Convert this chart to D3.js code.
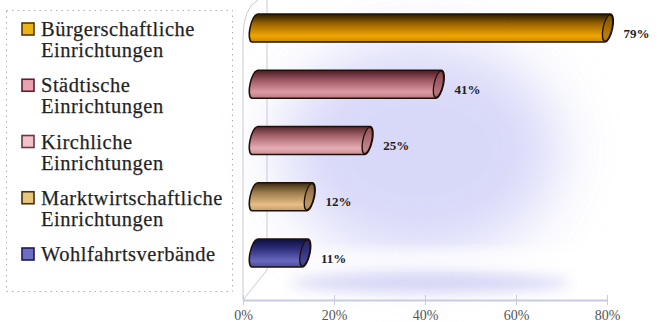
<!DOCTYPE html>
<html><head><meta charset="utf-8">
<script src="https://cdn.jsdelivr.net/npm/d3@7"></script>
<style>
html,body{margin:0;padding:0;background:#fff;}
svg{display:block;}
</style></head>
<body>
<svg id="chart" width="660" height="322"></svg>
<script>
const categories = ["Bürgerschaftliche Einrichtungen","Städtische Einrichtungen","Kirchliche Einrichtungen","Marktwirtschaftliche Einrichtungen","Wohlfahrtsverbände"];
const values = [79, 41, 25, 12, 11];
const tickValues = [0, 20, 40, 60, 80];
const valueLabels = ["79%","41%","25%","12%","11%"];

const SERIF = "Liberation Serif";
const barColors = [
  ["#2a1a00","#9a6400","#f0a600","#c88800"],
  ["#4a1a22","#9c5662","#dc9ca6","#b87882"],
  ["#55262e","#a8666f","#e8aeb6","#c88e96"],
  ["#3a2a12","#9c7c4c","#e6be86","#c49c6a"],
  ["#0e0e3c","#2e2e7c","#6868be","#4c4c9c"]
];
const legendFill = ["#e8b418","#e8a2b0","#f2c2ca","#e6c67a","#6e6ec0"];
const legendStroke = ["#5a3600","#5a2030","#6a3848","#4a3010","#1a1a5a"];

const svg = d3.select("#chart");
const defs = svg.append("defs");

defs.append("filter").attr("id","blur30").attr("x","-50%").attr("y","-50%").attr("width","200%").attr("height","200%")
  .append("feGaussianBlur").attr("stdDeviation",30);
defs.append("filter").attr("id","blur8").attr("x","-50%").attr("y","-50%").attr("width","200%").attr("height","200%")
  .append("feGaussianBlur").attr("stdDeviation",7);

const xAxisScale = d3.scaleLinear().domain([0,80]).range([243,607]);
const xBar = d3.scaleLinear().domain([0,80]).range([261,617]);
const yBar = d3.scalePoint().domain(categories).range([28,253]);

const bg = svg.append("g");
bg.append("ellipse").attr("cx",420).attr("cy",150).attr("rx",140).attr("ry",110)
  .attr("fill","#d2d2f8").attr("opacity",0.85).attr("filter","url(#blur30)");
bg.append("ellipse").attr("cx",430).attr("cy",283).attr("rx",140).attr("ry",9)
  .attr("fill","#cfcff4").attr("opacity",0.9).attr("filter","url(#blur8)");
bg.append("ellipse").attr("cx",470).attr("cy",258).attr("rx",200).attr("ry",7)
  .attr("fill","#ffffff").attr("opacity",0.95).attr("filter","url(#blur8)");

const wallColor = "#c9c9d6";
svg.append("path").attr("d","M243,300 L243,38 Q243,8 258,0").attr("fill","none").attr("stroke",wallColor).attr("stroke-width",1);
svg.append("line").attr("x1",267).attr("y1",0).attr("x2",267).attr("y2",270).attr("stroke",wallColor).attr("stroke-width",1);
svg.append("line").attr("x1",243).attr("y1",300).attr("x2",267).attr("y2",270).attr("stroke",wallColor).attr("stroke-width",1);

const axis = d3.axisBottom(xAxisScale).tickValues(tickValues).tickFormat(d => d + "%").tickSizeInner(-5).tickSizeOuter(0).tickPadding(17);
const ag = svg.append("g").attr("transform","translate(0,300)").call(axis);
ag.attr("font-family",SERIF).attr("font-size",14);
ag.select(".domain").attr("stroke","#c8cce2").attr("stroke-width",2);
ag.selectAll(".tick line").attr("stroke","#c8cce2").attr("y2",5).attr("y1",-5);
ag.selectAll(".tick text").attr("font-family",SERIF).attr("font-size",14).attr("fill","#555").attr("dy",0).attr("y",20);

barColors.forEach((c,i) => {
  const g = defs.append("linearGradient").attr("id","bg"+i).attr("x1",0).attr("y1",0).attr("x2",0).attr("y2",1);
  g.append("stop").attr("offset","0").attr("stop-color",c[0]);
  g.append("stop").attr("offset","0.35").attr("stop-color",c[1]);
  g.append("stop").attr("offset","0.78").attr("stop-color",c[2]);
  g.append("stop").attr("offset","1").attr("stop-color",c[3]);
});

const ry = 14, rx = 5;
const bars = svg.append("g").selectAll("g").data(categories).join("g")
  .attr("transform", d => { const cy = yBar(d); return `translate(0,${cy}) skewX(-11) translate(0,${-cy})`; });
bars.append("path")
  .attr("d", (d,i) => {
    const cy = yBar(d), xl = xBar(0) - 6, xr = xBar(values[i]) - rx;
    return `M${xr},${cy-ry} L${xl},${cy-ry} A${rx},${ry} 0 0 0 ${xl},${cy+ry} L${xr},${cy+ry} A${rx},${ry} 0 0 0 ${xr},${cy-ry} Z`;
  })
  .attr("fill",(d,i)=>`url(#bg${i})`).attr("stroke","#1e1208").attr("stroke-width",1.6);
bars.append("ellipse")
  .attr("cx",(d,i)=>xBar(values[i]) - rx).attr("cy",d=>yBar(d)).attr("rx",rx-0.5).attr("ry",ry-0.8)
  .attr("fill",(d,i)=>barColors[i][1]).attr("fill-opacity",0.6).attr("stroke","#1e1208").attr("stroke-width",1.3);

svg.append("g").selectAll("text").data(categories).join("text")
  .attr("font-family",SERIF)
  .attr("x",(d,i)=>xBar(values[i]) + 11).attr("y",d=>yBar(d)+9.5)
  .attr("font-weight","bold").attr("font-size",13).attr("fill","#222").text((d,i)=>valueLabels[i]);

svg.append("rect").attr("x",6.5).attr("y",10.5).attr("width",226).attr("height",281)
  .attr("fill","none").attr("stroke","#b0b0b0").attr("stroke-width",1).attr("stroke-dasharray","1.5,4");
const lg = svg.append("g").selectAll("g").data(categories).join("g")
  .attr("transform",(d,i)=>`translate(0,${yBar(d)})`);
lg.append("rect").attr("x",22).attr("y",-5).attr("width",12).attr("height",12)
  .attr("fill",(d,i)=>legendFill[i]).attr("stroke",(d,i)=>legendStroke[i]).attr("stroke-width",1.6);
lg.append("text").attr("font-family",SERIF)
  .attr("font-size",20.5).attr("letter-spacing",0.5).attr("fill","#1e1e1e").attr("stroke","#333").attr("stroke-width",0.25)
  .each(function(d){
    const words = d.split(" ");
    const t = d3.select(this);
    words.forEach((w,k)=>{
      t.append("tspan").attr("x",41).attr("y", 8 + k*21).text(w);
    });
  });
</script>
</body></html>
